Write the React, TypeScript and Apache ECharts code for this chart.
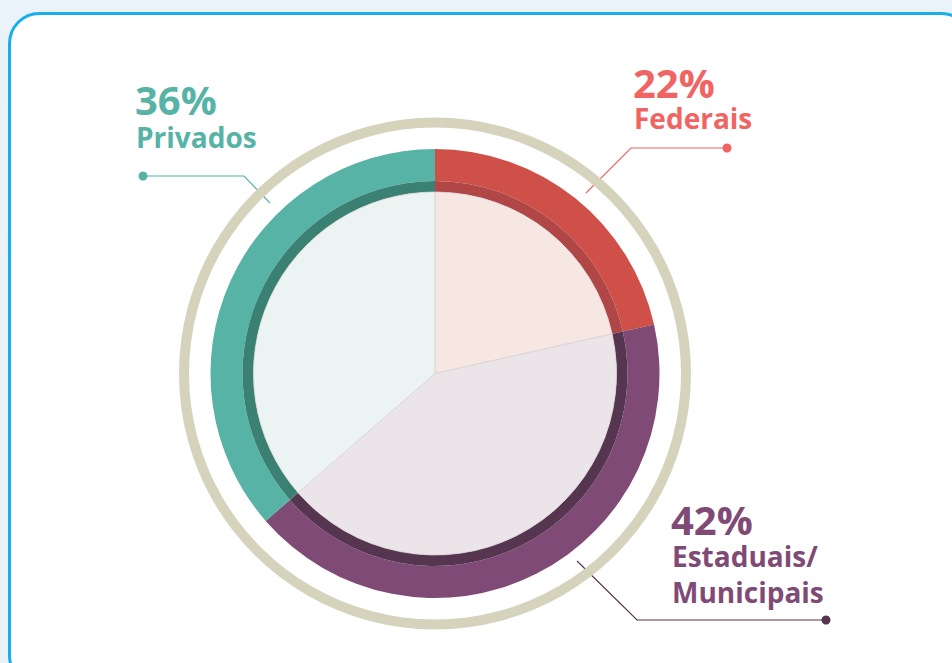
import React, { useEffect, useRef } from "react";
import * as echarts from "echarts";

const categories = ["Federais", "Estaduais/Municipais", "Privados"];
const shareValues = [21.5, 42.1, 36.4];
const percentLabels = ["22%", "42%", "36%"];
const nameLines = [["Federais"], ["Estaduais/", "Municipais"], ["Privados"]];

const outerColors = ["#cf5049", "#7f4b76", "#57b3a5"];
const darkColors = ["#b04646", "#55354f", "#3a8174"];
const fillColors = ["#f6e7e3", "#ebe4e9", "#ecf4f3"];
const textColors = ["#f06563", "#7f4b76", "#57b3a5"];
const lineColors = ["#f06563", "#55354f", "#57b3a5"];

const CX = 435;
const CY = 373.5;

export default function App() {
  const ref = useRef<HTMLDivElement>(null);
  useEffect(() => {
    if (!ref.current) return;
    const chart = echarts.init(ref.current, undefined, { renderer: "svg" });
    const mk = (colors: string[]) =>
      categories.map((c, i) => ({ name: c, value: shareValues[i], itemStyle: { color: colors[i] } }));

    const font = "'Open Sans', sans-serif";
    const labelPos = [
      { x: 633, pct: 82.5, names: [117.5] },
      { x: 671, pct: 519, names: [556, 591.5] },
      { x: 135, pct: 99, names: [136.5] },
    ];
    const leaders = [
      { pts: [[586, 193], [631, 148], [727, 148]], dot: [727, 148] },
      { pts: [[577, 561], [637, 620], [826, 620]], dot: [826, 620] },
      { pts: [[270, 203], [244, 176], [143, 176]], dot: [143, 176] },
    ];

    const graphics: any[] = [
      {
        type: "rect",
        z: -10,
        shape: { x: 9.5, y: 13.5, width: 962, height: 672, r: 30 },
        style: { fill: "#ffffff", stroke: "#17aeee", lineWidth: 3 },
        silent: true,
      },
    ];
    categories.forEach((_, i) => {
      const lp = labelPos[i];
      graphics.push({
        type: "text",
        x: lp.x,
        y: lp.pct,
        style: {
          text: percentLabels[i],
          fill: textColors[i],
          font: `bold 40px ${font}`,
          verticalAlign: "middle",
          align: "left",
        },
      });
      nameLines[i].forEach((t, j) => {
        graphics.push({
          type: "text",
          x: lp.x + 1,
          y: lp.names[j],
          style: {
            text: t,
            fill: textColors[i],
            font: `bold 28px ${font}`,
            verticalAlign: "middle",
            align: "left",
          },
        });
      });
      const ld = leaders[i];
      graphics.push({
        type: "polyline",
        shape: { points: ld.pts },
        style: { stroke: lineColors[i], lineWidth: 1.2, fill: "none" },
      });
      graphics.push({
        type: "circle",
        shape: { cx: ld.dot[0], cy: ld.dot[1], r: 4.5 },
        style: { fill: lineColors[i] },
      });
    });

    chart.setOption({
      animation: false,
      backgroundColor: "transparent",
      graphic: graphics,
      series: [
        {
          type: "pie",
          silent: true,
          center: [CX, CY],
          radius: [246, 256],
          label: { show: false },
          data: [{ value: 1, itemStyle: { color: "#d6d3bd" } }],
          z: 1,
        },
        {
          type: "pie",
          silent: true,
          center: [CX, CY],
          radius: [192.5, 224.5],
          startAngle: 90,
          clockwise: true,
          label: { show: false },
          data: mk(outerColors),
          z: 2,
        },
        {
          type: "pie",
          silent: true,
          center: [CX, CY],
          radius: [181.5, 192.5],
          startAngle: 90,
          label: { show: false },
          data: mk(darkColors),
          z: 3,
        },
        {
          type: "pie",
          silent: true,
          center: [CX, CY],
          radius: [0, 181.5],
          startAngle: 90,
          label: { show: false },
          itemStyle: { borderColor: "#d9d2d2", borderWidth: 0.8 },
          data: mk(fillColors),
          z: 4,
        },
      ],
    });
    return () => chart.dispose();
  }, []);
  return (
    <div
      style={{
        position: "fixed",
        left: 0,
        top: 0,
        width: 952,
        height: 663,
        background: "#e9f3f9",
      }}
    >
      <div ref={ref} style={{ width: 952, height: 663 }} />
    </div>
  );
}
